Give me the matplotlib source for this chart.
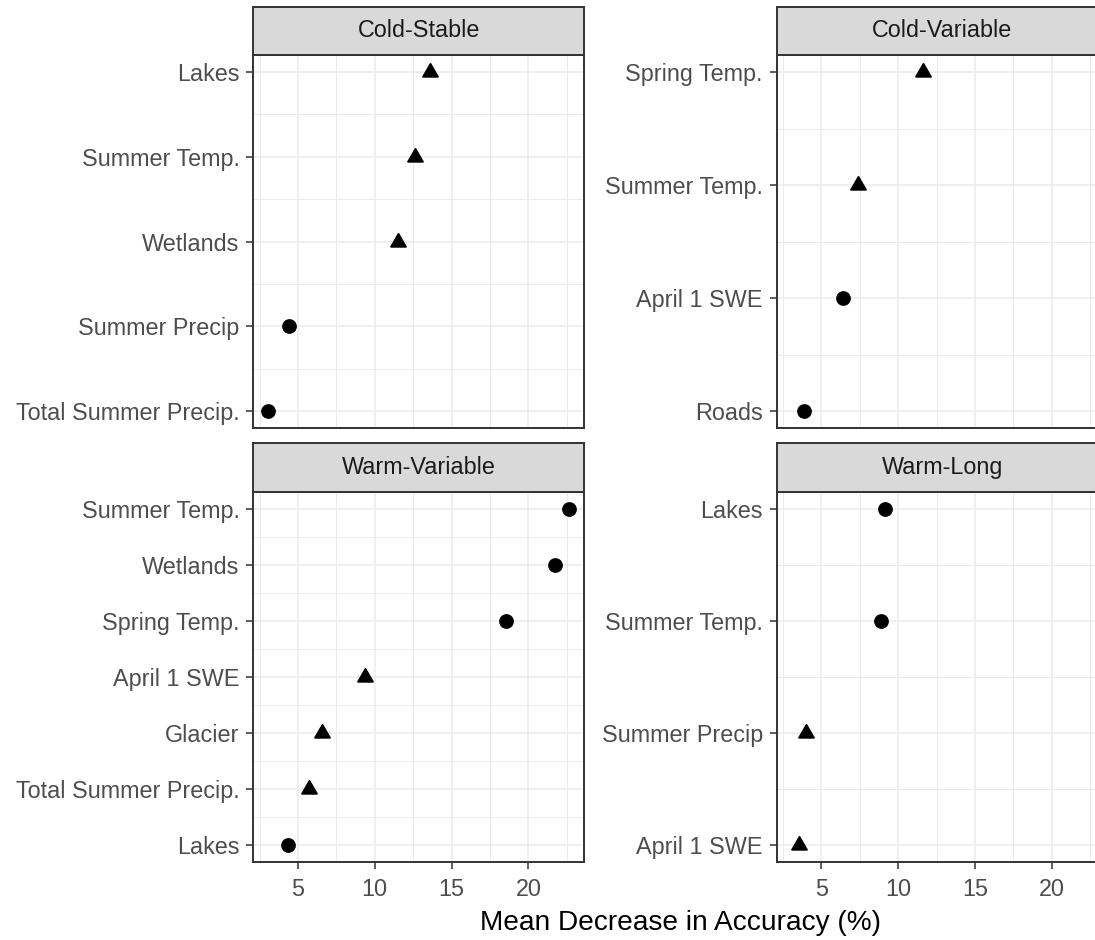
import numpy as np
import matplotlib
matplotlib.use("Agg")
import matplotlib.pyplot as plt

'''
Variable importance (mean decrease in accuracy) for four thermal regimes,
drawn as a 2x2 facet grid in the style of ggplot2 theme_bw.
'''

plt.rcParams["font.family"] = ["Liberation Sans", "DejaVu Sans"]

# Panel names, in facet order (row by row)
panel_titles = ["Cold-Stable", "Cold-Variable", "Warm-Variable", "Warm-Long"]

# Each panel: labels listed top to bottom, values, and point shape
cold_stable_labels = ["Lakes", "Summer Temp.", "Wetlands", "Summer Precip", "Total Summer Precip."]
cold_stable_values = [13.57, 12.64, 11.54, 4.43, 3.07]
cold_stable_shapes = ["triangle", "triangle", "triangle", "circle", "circle"]

cold_variable_labels = ["Spring Temp.", "Summer Temp.", "April 1 SWE", "Roads"]
cold_variable_values = [11.62, 7.40, 6.38, 3.90]
cold_variable_shapes = ["triangle", "triangle", "circle", "circle"]

warm_variable_labels = ["Summer Temp.", "Wetlands", "Spring Temp.", "April 1 SWE",
                        "Glacier", "Total Summer Precip.", "Lakes"]
warm_variable_values = [22.66, 21.75, 18.53, 9.37, 6.56, 5.69, 4.33]
warm_variable_shapes = ["circle", "circle", "circle", "triangle", "triangle", "triangle", "circle"]

warm_long_labels = ["Lakes", "Summer Temp.", "Summer Precip", "April 1 SWE"]
warm_long_values = [9.16, 8.90, 3.98, 3.57]
warm_long_shapes = ["circle", "circle", "triangle", "triangle"]

x_breaks = [5, 10, 15, 20]
x_label = "Mean Decrease in Accuracy (%)"

# Figure geometry in pixels (the right column runs off the right edge)
W, H = 1095, 940
COL_X = [253.3, 776.7]
PANEL_W = 331.0
ROW_STRIP_TOP = [6.7, 443.3]
ROW_STRIP_BOT = [55.0, 491.7]
ROW_PANEL_BOT = [428.3, 862.3]

GRID = "#EBEBEB"
DARK = "#333333"
MARKERS = {"circle": dict(marker="o", ms=9.6),
           "triangle": dict(marker=(3, 0, 0), ms=13.0)}


def px_rect(x0, y0, x1, y1):
    """Pixel box (top-left origin) to figure fraction [l, b, w, h]."""
    return [x0 / W, 1 - y1 / H, (x1 - x0) / W, (y1 - y0) / H]


def draw_panel(ax, labels, values, shapes, xlim, show_x):
    n = len(labels)
    pos = np.arange(n, 0, -1)
    pad = 0.05 * (n - 1)
    ax.set_ylim(1 - pad, n + pad)
    ax.set_xlim(*xlim)

    ax.set_xticks(x_breaks)
    ax.set_xticks([b - 2.5 for b in x_breaks] + [x_breaks[-1] + 2.5], minor=True)
    ax.set_yticks(pos)
    ax.set_yticklabels(labels)
    ax.set_yticks(np.arange(1.5, n, 1.0), minor=True)

    ax.grid(True, which="major", color=GRID, lw=1.1)
    ax.grid(True, which="minor", color=GRID, lw=0.75)
    ax.set_axisbelow(True)

    for p, v, s in zip(pos, values, shapes):
        ax.plot(v, p, color="black", ls="none", **MARKERS[s], zorder=3)

    for sp in ax.spines.values():
        sp.set_color(DARK)
        sp.set_linewidth(1.4)

    ax.tick_params(axis="both", which="major", length=5, width=1.1, color=DARK,
                   labelsize=16.8, labelcolor="#4D4D4D", pad=5)
    ax.tick_params(axis="x", which="major", pad=6.5)
    ax.tick_params(axis="both", which="minor", length=0)
    if show_x:
        ax.set_xticklabels([str(b) for b in x_breaks])
    else:
        ax.tick_params(axis="x", which="major", length=0, labelbottom=False)


def draw_strip(fig, rect, title):
    sax = fig.add_axes(rect)
    sax.set_facecolor("#D9D9D9")
    sax.set_xticks([])
    sax.set_yticks([])
    for sp in sax.spines.values():
        sp.set_color(DARK)
        sp.set_linewidth(1.4)
    sax.text(0.5, 0.5, title, transform=sax.transAxes, ha="center", va="center",
             fontsize=16.8, color="#1A1A1A")


def main():
    panels = [
        (cold_stable_labels, cold_stable_values, cold_stable_shapes),
        (cold_variable_labels, cold_variable_values, cold_variable_shapes),
        (warm_variable_labels, warm_variable_values, warm_variable_shapes),
        (warm_long_labels, warm_long_values, warm_long_shapes),
    ]
    all_vals = np.concatenate([np.asarray(p[1]) for p in panels])
    lo, hi = all_vals.min(), all_vals.max()
    span = hi - lo
    xlim = (lo - 0.05 * span, hi + 0.05 * span)

    fig = plt.figure(figsize=(W / 100, H / 100), dpi=100)
    fig.patch.set_facecolor("white")

    for i, (labels, values, shapes) in enumerate(panels):
        row, col = divmod(i, 2)
        x0 = COL_X[col]
        x1 = x0 + PANEL_W
        ax = fig.add_axes(px_rect(x0, ROW_STRIP_BOT[row], x1, ROW_PANEL_BOT[row]))
        draw_panel(ax, labels, values, shapes, xlim, show_x=(row == 1))
        draw_strip(fig, px_rect(x0, ROW_STRIP_TOP[row], x1, ROW_STRIP_BOT[row]),
                   panel_titles[i])

    # shared x-axis title, centred across both columns
    cx = (COL_X[0] + COL_X[1] + PANEL_W) / 2
    fig.text(cx / W, 1 - 923 / H, x_label, ha="center", va="center",
             fontsize=20.2, color="black")

    fig.savefig("out.png", dpi=100)
    plt.close(fig)


if __name__ == "__main__":
    main()
